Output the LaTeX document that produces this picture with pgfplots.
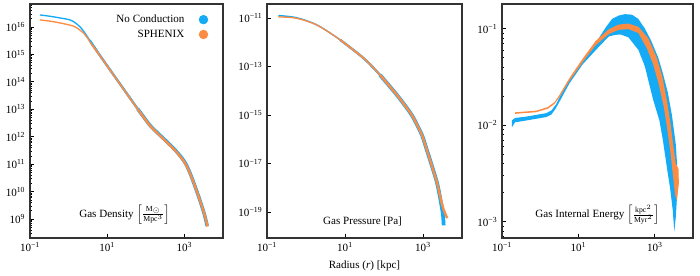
\documentclass[border=0pt]{standalone}
\usepackage{amsmath}
\usepackage{fontspec}
\setmainfont{Liberation Serif}
\usepackage{pgfplots}
\pgfplotsset{compat=1.18}
\definecolor{cblue}{RGB}{20,170,245}
\definecolor{corange}{RGB}{252,140,68}
\begin{document}
\begin{tikzpicture}[font=\fontsize{8.3}{10}\selectfont]
\useasboundingbox (0,0) rectangle (525pt,206.25pt);
% ---------------- Panel 1: density
\begin{axis}[
  scale only axis, anchor=south west,
  xmode=log, ymode=log, xmin=0.1, xmax=1e4,
  xtick={0.1,10,1000},
  xticklabels={10\textsuperscript{−1},10\textsuperscript{1},10\textsuperscript{3}},
  tick align=inside, tick pos=left,
  axis line style={line width=0.9pt, black!80},
  major tick length=3pt, minor tick length=1.7pt,
  tick style={black, line width=0.6pt},
  tick label style={font=\fontsize{8.3}{9}\selectfont},
  height=175.5pt,
  at={(22.5pt,27.75pt)}, width=144.75pt,
  ymin=2.05e8, ymax=6.9e16,
  ytick={1e9,1e10,1e11,1e12,1e13,1e14,1e15,1e16},
  yticklabels={10\textsuperscript{9},10\textsuperscript{10},10\textsuperscript{11},10\textsuperscript{12},10\textsuperscript{13},10\textsuperscript{14},10\textsuperscript{15},10\textsuperscript{16}},
  minor ytick={3e8,4e8,5e8,6e8,7e8,8e8,9e8,
    2e9,3e9,4e9,5e9,6e9,7e9,8e9,9e9,
    2e10,3e10,4e10,5e10,6e10,7e10,8e10,9e10,
    2e11,3e11,4e11,5e11,6e11,7e11,8e11,9e11,
    2e12,3e12,4e12,5e12,6e12,7e12,8e12,9e12,
    2e13,3e13,4e13,5e13,6e13,7e13,8e13,9e13,
    2e14,3e14,4e14,5e14,6e14,7e14,8e14,9e14,
    2e15,3e15,4e15,5e15,6e15,7e15,8e15,9e15,
    2e16,3e16,4e16,5e16,6e16},
  legend style={draw=none, fill=none, at={(0.93,0.972)}, anchor=north east,
    font=\fontsize{8.3}{10}\selectfont, row sep=0pt, column sep=9pt, inner sep=1pt},
  legend cell align=right,
  legend plot pos=right,
]
\addlegendimage{only marks, mark=*, mark size=3.3pt, cblue}
\addlegendentry{No Conduction}
\addlegendimage{only marks, mark=*, mark size=3.3pt, corange}
\addlegendentry{SPHENIX}
% No Conduction
\addplot[cblue, line width=1.0pt, smooth, forget plot] coordinates {
 (0.18,2.75e16) (0.3,2.51e16) (0.5,2.24e16) (1.08,1.82e16) (1.5,1.41e16)
 (2.0,1.0e16) (2.6,6.3e15) (3.5,3.3e15) (5.8,1.15e15)};
\addplot[cblue, line width=1.8pt, smooth, forget plot] coordinates {
 (3.5,3.3e15) (5.8,1.15e15) (10,3.85e14) (18.6,1.12e14) (32,3.8e13) (62,1.03e13) (126,2.7e12)};
\addplot[cblue, line width=2.6pt, smooth, forget plot] coordinates {
 (62,1.03e13) (126,2.7e12) (200,1.4e12) (340,6.9e11) (575,3.3e11) (900,1.55e11)
 (1096,1.0e11) (1259,6.7e10) (1479,3.9e10) (1820,1.8e10) (2455,5.4e9) (3311,1.45e9) (3900,5.6e8)};
% SPHENIX
\addplot[corange, line width=1.0pt, smooth, forget plot] coordinates {
 (0.18,1.82e16) (0.3,1.66e16) (0.5,1.48e16) (1.08,1.175e16) (1.5,1.0e16)
 (1.95,7.76e15) (2.4,6.17e15) (2.9,4.47e15) (4.0,2.29e15) (5.8,1.12e15)};
\addplot[corange, line width=1.3pt, smooth, forget plot] coordinates {
 (4.0,2.29e15) (5.8,1.12e15) (10,3.8e14) (18.6,1.1e14) (32,3.72e13) (62,1.0e13) (126,2.63e12)};
\addplot[corange, line width=1.8pt, smooth, forget plot] coordinates {
 (62,1.0e13) (126,2.63e12) (200,1.35e12) (340,6.6e11) (575,3.16e11) (900,1.48e11)
 (1096,9.55e10) (1259,6.46e10) (1479,3.8e10) (1820,1.78e10) (2455,5.37e9) (3311,1.48e9) (3981,5.37e8)};
\node at (rel axis cs:0.49,0.1) {Gas Density $\left[\frac{\text{M}_{\odot}}{\text{Mpc}^{3}}\right]$};
\end{axis}
% ---------------- Panel 2: pressure
\begin{axis}[
  scale only axis, anchor=south west,
  xmode=log, ymode=log, xmin=0.1, xmax=1e4,
  xtick={0.1,10,1000},
  xticklabels={10\textsuperscript{−1},10\textsuperscript{1},10\textsuperscript{3}},
  tick align=inside, tick pos=left,
  axis line style={line width=0.9pt, black!80},
  major tick length=3pt, minor tick length=1.7pt,
  tick style={black, line width=0.6pt},
  tick label style={font=\fontsize{8.3}{9}\selectfont},
  height=175.5pt,
  at={(200.25pt,27.75pt)}, width=146.25pt,
  ymin=8.5e-21, ymax=3.8e-11,
  ytick={1e-19,1e-17,1e-15,1e-13,1e-11},
  yticklabels={10\textsuperscript{−19},10\textsuperscript{−17},10\textsuperscript{−15},10\textsuperscript{−13},10\textsuperscript{−11}},
  minor ytick={1e-20},
  minor tick length=0pt,
  xlabel={Radius (\textit{r}) [kpc]},
  xlabel style={font=\fontsize{8.3}{10}\selectfont},
]
\addplot[cblue, line width=1.1pt, smooth] coordinates {
 (0.195,1.27e-11) (0.575,1.03e-11) (1.905,5.2e-12) (7.53,1.26e-12) (30.2,2.19e-13)};
\addplot[cblue, line width=1.8pt, smooth] coordinates {
 (7.53,1.26e-12) (30.2,2.19e-13) (79.4,4.47e-14) (213.8,6.76e-15)};
\addplot[cblue, line width=2.8pt, smooth] coordinates {
 (79.4,4.47e-14) (213.8,6.76e-15) (478.6,1.2e-15) (676,4.47e-16) (955,1.41e-16)
 (1259,3.55e-17) (1549,1.26e-17) (2291,1.585e-18) (2884,2.51e-19) (3236,7.94e-20) (3388,2.82e-20)};
\addplot[corange, line width=1.0pt, smooth] coordinates {
 (0.195,1.122e-11) (0.575,9.77e-12) (1.905,5.13e-12) (7.53,1.26e-12) (30.2,2.19e-13)};
\addplot[corange, line width=1.3pt, smooth] coordinates {
 (7.53,1.26e-12) (30.2,2.19e-13) (79.4,4.47e-14) (213.8,6.76e-15)};
\addplot[corange, line width=1.8pt, smooth] coordinates {
 (79.4,4.47e-14) (213.8,6.76e-15) (478.6,1.2e-15) (676,4.47e-16) (955,1.41e-16)
 (1259,3.55e-17) (1549,1.26e-17) (2291,1.585e-18) (2884,3.16e-19) (3388,1.26e-19) (4169,5.62e-20)};
\node at (rel axis cs:0.49,0.073) {Gas Pressure [Pa]};
\end{axis}
% ---------------- Panel 3: internal energy
\begin{axis}[
  scale only axis, anchor=south west,
  xmode=log, ymode=log, xmin=0.1, xmax=1e4,
  xtick={0.1,10,1000},
  xticklabels={10\textsuperscript{−1},10\textsuperscript{1},10\textsuperscript{3}},
  tick align=inside, tick pos=left,
  axis line style={line width=0.9pt, black!80},
  major tick length=3pt, minor tick length=1.7pt,
  tick style={black, line width=0.6pt},
  tick label style={font=\fontsize{8.3}{9}\selectfont},
  height=175.5pt,
  at={(376.5pt,27.75pt)}, width=143.25pt,
  ymin=6.8e-4, ymax=0.18,
  ytick={1e-3,1e-2,1e-1},
  yticklabels={10\textsuperscript{−3},10\textsuperscript{−2},10\textsuperscript{−1}},
  minor ytick={7e-4,8e-4,9e-4,2e-3,3e-3,4e-3,5e-3,6e-3,7e-3,8e-3,9e-3,
    2e-2,3e-2,4e-2,5e-2,6e-2,7e-2,8e-2,9e-2},
]
\addplot[fill=cblue, draw=none] coordinates {
 (0.182,0.01122) (0.219,0.01189) (0.442,0.01230) (1.445,0.01334) (1.995,0.01429)
 (2.630,0.01660) (3.311,0.01995) (5.754,0.02951) (12.88,0.04677) (28.18,0.07079)
 (51.29,0.1023) (75.86,0.1259) (112.2,0.1365) (166.0,0.1413) (251.2,0.1396)
 (371.5,0.1259) (549.5,0.1) (794.3,0.07586) (1230,0.05012) (1622,0.03467)
 (2188,0.02188) (2818,0.01259) (3548,0.00631) (3981,0.00309) (3802,0.001778)
 (3548,0.001122) (3236,0.000794)
 (2951,0.001318) (2512,0.002239) (2188,0.003162) (1622,0.007079) (1318,0.01122)
 (912.0,0.01820) (741.3,0.02512) (549.5,0.04074) (371.5,0.06026) (204.2,0.08128)
 (125.9,0.08710) (91.20,0.08610) (63.10,0.08318) (33.88,0.06457) (12.88,0.04266)
 (5.754,0.02692) (3.162,0.01738) (2.512,0.01479) (1.950,0.01288) (1.445,0.01216)
 (0.442,0.01122) (0.219,0.01072) (0.182,0.00955)} -- cycle;
\addplot[fill=corange, draw=none] coordinates {
 (0.219,0.01361) (0.794,0.01416) (1.585,0.01545) (2.377,0.01738) (3.162,0.02051)
 (5.754,0.03055) (12.88,0.04875) (28.18,0.07447) (63.10,0.09886) (112.2,0.1102)
 (204.2,0.1130) (371.5,0.1047) (676.1,0.07943) (1122,0.05012) (1585,0.03162)
 (2089,0.01778) (2570,0.01047) (3020,0.00631) (3548,0.003981) (4169,0.003548)
 (4266,0.002512) (3802,0.00166)
 (3388,0.001905) (2951,0.003162) (2512,0.005623) (2138,0.008913) (1738,0.01514)
 (1259,0.02692) (891.3,0.04365) (631.0,0.06166) (371.5,0.09016) (204.2,0.09886)
 (112.2,0.09727) (63.10,0.08810) (28.18,0.06730) (12.88,0.04487) (5.754,0.02851)
 (3.162,0.01941) (2.377,0.01660) (1.585,0.01483) (0.794,0.01365) (0.219,0.01312)} -- cycle;
\node at (rel axis cs:0.5,0.10) {Gas Internal Energy $\left[\frac{\text{kpc}^{2}}{\text{Myr}^{2}}\right]$};
\end{axis}
\end{tikzpicture}
\end{document}
